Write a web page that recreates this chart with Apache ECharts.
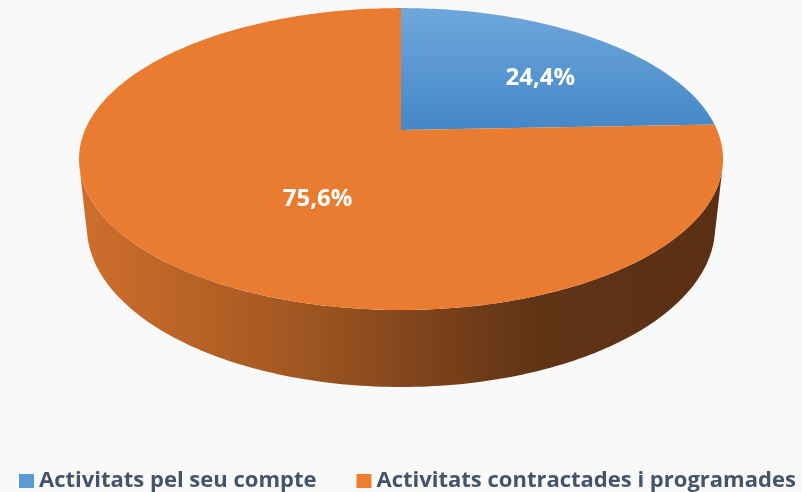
<!DOCTYPE html>
<html>
<head>
<meta charset="UTF-8">
<title>Activitats</title>
<script src="https://cdn.jsdelivr.net/npm/echarts@6/dist/echarts.min.js"></script>
<style>html,body{margin:0;background:#f9f9f9}</style>
</head>
<body>
<div id="chart" style="width:802px;height:492px"></div>
<script>
var categories = ['Activitats pel seu compte', 'Activitats contractades i programades'];
var values = [24.4, 75.6];
var colors = ['#5b9bd5', '#ed7d31'];

// 3d pie seen through a perspective camera looking down
var cx = 401, cy = 130, focal = 1460, dist = 4.62, tiltSin = 0.46, tiltCos = 0.888, depth = 0.244;
var labelRadius = [0.61, 0.5], labelTurn = [-7, 15];
var visAngle = Math.asin(1 / (dist * tiltCos)) * 180 / Math.PI;

var total = values.reduce(function (s, v) { return s + v; }, 0);
var starts = [], acc = 0;
values.forEach(function (v) { starts.push(acc); acc += v; });

function project(theta, z, r) {
  r = r == null ? 1 : r;
  var u = r * Math.cos(theta), v = r * Math.sin(theta);
  var w = dist + v * tiltCos - z * tiltSin;
  return [cx + focal * u / w, cy - focal * (v * tiltSin + z * tiltCos) / w];
}

function arc(a, b, z) {
  var pts = [], n = Math.max(2, Math.ceil(Math.abs(b - a)));
  for (var i = 0; i <= n; i++) pts.push(project((a + (b - a) * i / n) * Math.PI / 180, z));
  return pts;
}

var halfW = focal / dist / Math.sqrt(1 - Math.pow(tiltCos / dist, 2));
var wallFill = [
  {type: 'linear', x: cx - halfW, y: 0, x2: cx + halfW, y2: 0, global: true,
   colorStops: [{offset: 0, color: '#3f78ad'}, {offset: 1, color: '#1f3d5a'}]},
  {type: 'linear', x: cx - halfW, y: 0, x2: cx + halfW, y2: 0, global: true,
   colorStops: [{offset: 0, color: '#cf6e2c'}, {offset: 0.3, color: '#a85a22'},
                {offset: 0.5, color: '#84471d'}, {offset: 0.7, color: '#613416'},
                {offset: 1, color: '#5a2f14'}]}
];
var topFill = [
  {type: 'linear', x: 0, y: 0, x2: 0, y2: 1,
   colorStops: [{offset: 0, color: '#6fa7dc'}, {offset: 1, color: '#4487c8'}]},
  '#ea7c31'
];

function fmt(v) {
  return (v / total * 100).toFixed(1).replace('.', ',') + '%';
}

function slice(i, start, value) {
  var a0 = 90 - start / total * 360, a1 = a0 - value / total * 360;
  var children = [];
  // outer wall, only the part facing the camera
  for (var k = -2; k <= 1; k++) {
    var lo = Math.max(a1, 180 + visAngle + 360 * k), hi = Math.min(a0, 360 - visAngle + 360 * k);
    if (hi > lo) {
      children.push({type: 'polygon', z2: 0, shape: {points: arc(hi, lo, 0).concat(arc(lo, hi, -depth))},
        style: {fill: wallFill[i]}});
    }
  }
  children.push({type: 'polygon', z2: 10, shape: {points: [project(0, 0, 0)].concat(arc(a0, a1, 0))},
    style: {fill: topFill[i]}});
  var mid = ((a0 + a1) / 2 + labelTurn[i]) * Math.PI / 180;
  var p = project(mid, 0, labelRadius[i]);
  children.push({type: 'text', z2: 20, x: p[0], y: p[1],
    style: {text: fmt(value), fill: '#ffffff', font: 'bold 24px "Open Sans"', align: 'center', verticalAlign: 'middle'}});
  return {type: 'group', children: children};
}

var myChart = echarts.init(document.getElementById('chart'));
var option = {
  backgroundColor: '#f9f9f9',
  animation: false,
  color: colors,
  legend: {
    data: categories,
    left: 14,
    top: 465,
    icon: 'rect',
    itemWidth: 15,
    itemHeight: 14,
    itemGap: 40,
    textStyle: {color: '#44546a', fontSize: 22, fontWeight: 'bold', fontFamily: 'Open Sans'}
  },
  series: categories.map(function (name, i) {
    return {
      type: 'custom',
      name: name,
      coordinateSystem: 'none',
      itemStyle: {color: colors[i]},
      data: [[starts[i], values[i]]],
      renderItem: function (params, api) {
        return slice(i, api.value(0), api.value(1));
      }
    };
  })
};
myChart.setOption(option);
</script>
</body>
</html>
